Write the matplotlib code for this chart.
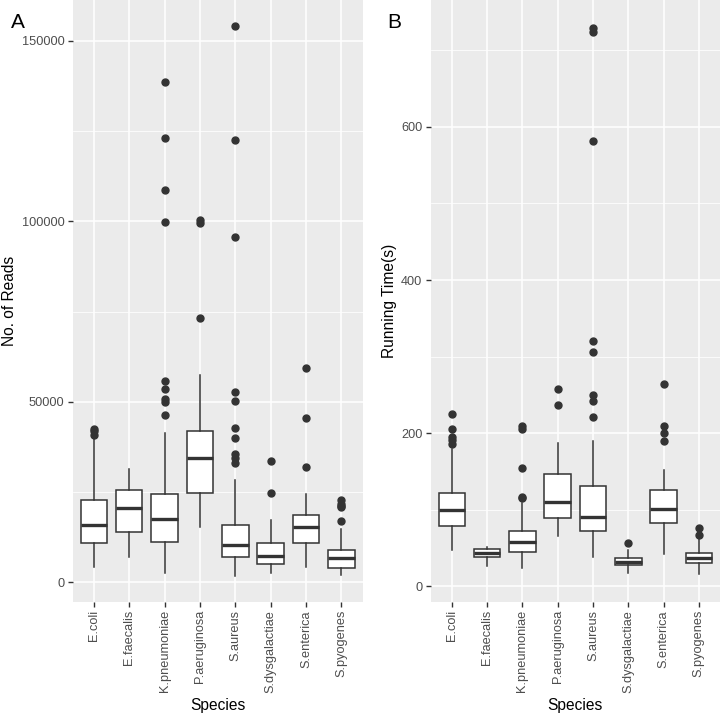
import matplotlib
matplotlib.use("Agg")
import matplotlib.pyplot as plt
from matplotlib.ticker import MultipleLocator

plt.rcParams['font.family'] = ['Liberation Sans', 'DejaVu Sans']

species = ["E.coli", "E.faecalis", "K.pneumoniae", "P.aeruginosa",
           "S.aureus", "S.dysgalactiae", "S.enterica", "S.pyogenes"]

# Panel A: number of reads (box stats)
reads_q1 = [11000, 14000, 11100, 24700, 7100, 5000, 10800, 3900]
reads_med = [16000, 20600, 17600, 34600, 10400, 7400, 15300, 6700]
reads_q3 = [22900, 25500, 24400, 41900, 16000, 10900, 18800, 9000]
reads_lo = [4200, 7100, 2500, 15300, 1900, 2600, 4200, 2100]
reads_hi = [40300, 31500, 41500, 57400, 28500, 17300, 24400, 14800]
reads_out = [
    [40900, 41900, 42600],
    [],
    [46300, 50000, 50900, 53600, 55700, 99700, 108700, 123000, 138600],
    [73200, 99400, 100300],
    [33100, 34500, 35500, 40000, 42800, 50200, 52800, 95600, 122600, 154000],
    [24700, 33500],
    [31900, 45400, 59300],
    [16900, 20800, 21300, 21800, 22700],
]

# Panel B: running time in seconds
time_q1 = [78, 38, 45, 89, 72, 27.5, 83, 29.7]
time_med = [100, 42.7, 57, 110, 90.6, 31, 100.7, 36.5]
time_q3 = [121, 48, 72, 146, 131, 36, 125.5, 43.5]
time_lo = [47, 26.5, 24, 66, 38, 16.6, 42.5, 15.5]
time_hi = [179, 51.4, 108, 187, 189, 47, 151.6, 61]
time_out = [
    [185.6, 190.8, 194.3, 204.8, 224.8],
    [],
    [114.6, 116.8, 153.8, 204.8, 209.6],
    [236.6, 257.9],
    [220.5, 241.8, 249.7, 305.5, 320.7, 582, 724, 730],
    [55.8],
    [190, 200.4, 209, 264],
    [66.7, 75.8],
]

GREY = "#333333"


def make_stats(q1, med, q3, lo, hi, out):
    return [dict(q1=a, med=b, q3=c, whislo=d, whishi=e, fliers=f)
            for a, b, c, d, e, f in zip(q1, med, q3, lo, hi, out)]


def draw_panel(ax, stats, ylim, major, minor, ylabel):
    ax.set_facecolor("#EBEBEB")
    ax.bxp(stats, positions=range(1, len(stats) + 1), widths=0.75,
           showcaps=False, patch_artist=True,
           boxprops=dict(facecolor="white", edgecolor=GREY, linewidth=1.1),
           whiskerprops=dict(color=GREY, linewidth=1.1),
           medianprops=dict(color=GREY, linewidth=2.4, solid_capstyle="butt"),
           flierprops=dict(marker="o", markerfacecolor=GREY,
                           markeredgecolor=GREY, markersize=5))
    ax.set_xlim(0.4, len(stats) + 0.6)
    ax.set_ylim(*ylim)
    ax.yaxis.set_major_locator(MultipleLocator(major))
    ax.yaxis.set_minor_locator(MultipleLocator(minor))
    ax.set_xticks(range(1, len(stats) + 1))
    ax.set_xticklabels(species, rotation=90, va="top", ha="center")
    ax.grid(which="major", color="white", linewidth=1.1)
    ax.grid(which="minor", axis="y", color="white", linewidth=0.55)
    ax.set_axisbelow(True)
    for s in ax.spines.values():
        s.set_visible(False)
    ax.tick_params(axis="both", which="major", length=3.5, width=1.0,
                   color=GREY, labelcolor="#4D4D4D", labelsize=9.2, pad=2.5)
    ax.tick_params(axis="y", which="minor", length=0)
    ax.set_xlabel("Species", fontsize=11.2, labelpad=4)
    ax.set_ylabel(ylabel, fontsize=11.2, labelpad=3)


fig = plt.figure(figsize=(7.2, 7.18), dpi=100)
W, H = 720, 718
axA = fig.add_axes([72.7 / W, (H - 601.7) / H, (362.5 - 72.7) / W, 601.7 / H])
axB = fig.add_axes([430.7 / W, (H - 601.7) / H, (720 - 430.7) / W, 601.7 / H])

draw_panel(axA, make_stats(reads_q1, reads_med, reads_q3, reads_lo, reads_hi, reads_out),
           (-5315, 161240), 50000, 25000, "No. of Reads")
draw_panel(axB, make_stats(time_q1, time_med, time_q3, time_lo, time_hi, time_out),
           (-20.5, 766), 200, 100, "Running Time(s)")

fig.text(18 / W, 1 - 23 / H, "A", fontsize=15, ha="center", va="center")
fig.text(394 / W, 1 - 23 / H, "B", fontsize=15, ha="center", va="center")

fig.savefig("out.png", dpi=100)
